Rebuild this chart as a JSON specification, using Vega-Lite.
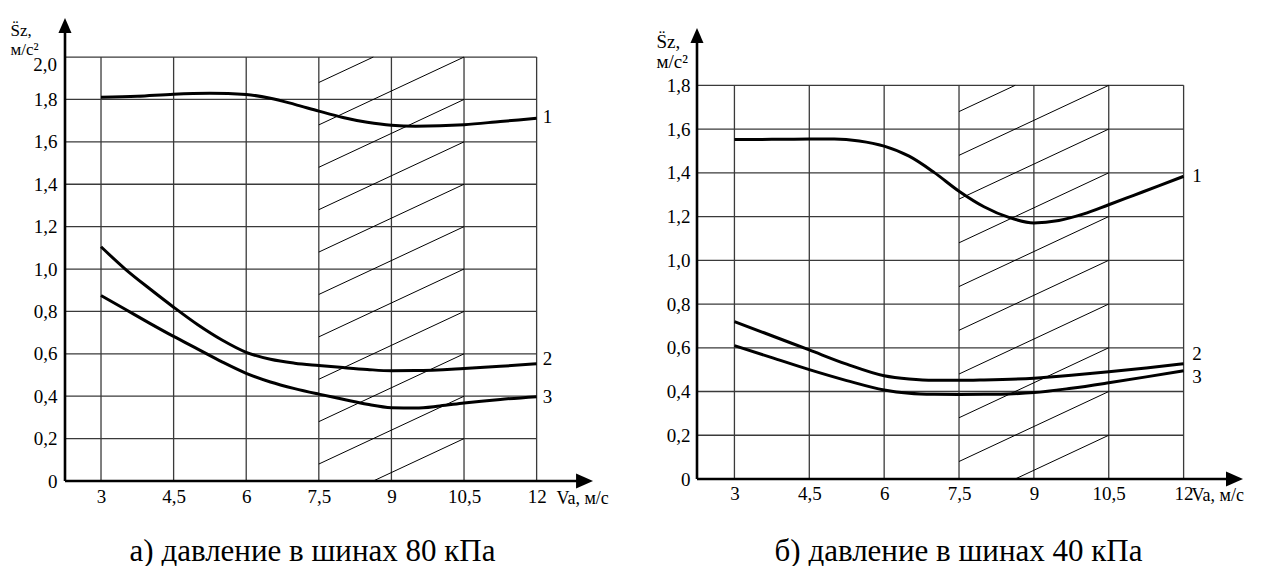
{
  "$schema": "https://vega.github.io/schema/vega-lite/v6.json",
  "padding": {"left": 10, "top": 17, "right": 0, "bottom": 0},
  "bounds": "flush",
  "spacing": 102,
  "config": {"view": {"stroke": null}, "font": "Liberation Serif", "text": {"font": "Liberation Serif"}},
  "hconcat": [
    {
      "width": 530,
      "height": 464,
      "layer": [
        {
          "data": {"values": [{"g": 0.2},{"g": 0.4},{"g": 0.6},{"g": 0.8},{"g": 1.0},{"g": 1.2},{"g": 1.4},{"g": 1.6},{"g": 1.8},{"g": 2.0}]},
          "mark": {"type": "rule", "color": "#3a3a3a", "strokeWidth": 1.3},
          "encoding": {
            "x": {"datum": 2.256, "type": "quantitative", "scale": {"domain": [2.256, 13.206], "nice": false, "zero": false}},
            "x2": {"datum": 12},
            "y": {"field": "g", "type": "quantitative", "scale": {"domain": [0, 2.189], "nice": false, "zero": false}}
          }
        },
        {
          "data": {"values": [{"g": 3},{"g": 4.5},{"g": 6},{"g": 7.5},{"g": 9},{"g": 10.5},{"g": 12}]},
          "mark": {"type": "rule", "color": "#3a3a3a", "strokeWidth": 1.3},
          "encoding": {
            "x": {"field": "g", "type": "quantitative", "scale": {"domain": [2.256, 13.206], "nice": false, "zero": false}},
            "y": {"datum": 0, "type": "quantitative", "scale": {"domain": [0, 2.189], "nice": false, "zero": false}},
            "y2": {"datum": 2.0}
          }
        },
        {
          "data": {"values": [
            {"x1": 8.625, "y1": 0.0, "x2": 10.5, "y2": 0.2},
            {"x1": 7.5, "y1": 0.08, "x2": 10.5, "y2": 0.4},
            {"x1": 7.5, "y1": 0.28, "x2": 10.5, "y2": 0.6},
            {"x1": 7.5, "y1": 0.48, "x2": 10.5, "y2": 0.8},
            {"x1": 7.5, "y1": 0.68, "x2": 10.5, "y2": 1.0},
            {"x1": 7.5, "y1": 0.88, "x2": 10.5, "y2": 1.2},
            {"x1": 7.5, "y1": 1.08, "x2": 10.5, "y2": 1.4},
            {"x1": 7.5, "y1": 1.28, "x2": 10.5, "y2": 1.6},
            {"x1": 7.5, "y1": 1.48, "x2": 10.5, "y2": 1.8},
            {"x1": 7.5, "y1": 1.68, "x2": 10.5, "y2": 2.0},
            {"x1": 7.5, "y1": 1.88, "x2": 8.625, "y2": 2.0}
          ]},
          "mark": {"type": "rule", "color": "black", "strokeWidth": 1},
          "encoding": {
            "x": {"field": "x1", "type": "quantitative", "scale": {"domain": [2.256, 13.206], "nice": false, "zero": false}},
            "x2": {"field": "x2"},
            "y": {"field": "y1", "type": "quantitative", "scale": {"domain": [0, 2.189], "nice": false, "zero": false}},
            "y2": {"field": "y2"}
          }
        },
        {
          "data": {"values": [
            {"x1": 2.256, "y1": 0, "x2": 2.256, "y2": 2.12},
            {"x1": 2.256, "y1": 0, "x2": 12.85, "y2": 0}
          ]},
          "mark": {"type": "rule", "color": "black", "strokeWidth": 2.6},
          "encoding": {
            "x": {"field": "x1", "type": "quantitative", "scale": {"domain": [2.256, 13.206], "nice": false, "zero": false}},
            "x2": {"field": "x2"},
            "y": {"field": "y1", "type": "quantitative", "scale": {"domain": [0, 2.189], "nice": false, "zero": false}},
            "y2": {"field": "y2"}
          }
        },
        {
          "data": {"values": [{"v": 2.256, "a": 2.149}]},
          "mark": {"type": "point", "shape": "M0,-1L0.87,1L-0.87,1Z", "filled": true, "color": "black", "opacity": 1, "size": 225, "strokeWidth": 0},
          "encoding": {
            "x": {"field": "v", "type": "quantitative", "scale": {"domain": [2.256, 13.206], "nice": false, "zero": false}},
            "y": {"field": "a", "type": "quantitative", "scale": {"domain": [0, 2.189], "nice": false, "zero": false}}
          }
        },
        {
          "data": {"values": [{"v": 12.99, "a": 0}]},
          "mark": {"type": "point", "shape": "M1,0L-1,-0.87L-1,0.87Z", "filled": true, "color": "black", "opacity": 1, "size": 289, "strokeWidth": 0},
          "encoding": {
            "x": {"field": "v", "type": "quantitative", "scale": {"domain": [2.256, 13.206], "nice": false, "zero": false}},
            "y": {"field": "a", "type": "quantitative", "scale": {"domain": [0, 2.189], "nice": false, "zero": false}}
          }
        },
        {
          "data": {"values": [
            {"c": "1", "v": 3, "a": 1.81}, {"c": "1", "v": 3.75, "a": 1.815}, {"c": "1", "v": 4.5, "a": 1.825}, {"c": "1", "v": 5.25, "a": 1.829}, {"c": "1", "v": 6, "a": 1.823}, {"c": "1", "v": 6.5, "a": 1.806}, {"c": "1", "v": 7, "a": 1.777}, {"c": "1", "v": 7.5, "a": 1.745}, {"c": "1", "v": 8, "a": 1.715}, {"c": "1", "v": 8.5, "a": 1.692}, {"c": "1", "v": 9, "a": 1.678}, {"c": "1", "v": 9.5, "a": 1.674}, {"c": "1", "v": 10.5, "a": 1.681}, {"c": "1", "v": 11.25, "a": 1.696}, {"c": "1", "v": 12, "a": 1.711},
            {"c": "2", "v": 3, "a": 1.105}, {"c": "2", "v": 3.5, "a": 1.0}, {"c": "2", "v": 4, "a": 0.908}, {"c": "2", "v": 4.5, "a": 0.82}, {"c": "2", "v": 5, "a": 0.737}, {"c": "2", "v": 5.5, "a": 0.665}, {"c": "2", "v": 6, "a": 0.607}, {"c": "2", "v": 6.5, "a": 0.574}, {"c": "2", "v": 7, "a": 0.556}, {"c": "2", "v": 7.5, "a": 0.545}, {"c": "2", "v": 8, "a": 0.535}, {"c": "2", "v": 8.5, "a": 0.526}, {"c": "2", "v": 9, "a": 0.52}, {"c": "2", "v": 9.5, "a": 0.521}, {"c": "2", "v": 10.5, "a": 0.531}, {"c": "2", "v": 11.25, "a": 0.541}, {"c": "2", "v": 12, "a": 0.553},
            {"c": "3", "v": 3, "a": 0.875}, {"c": "3", "v": 3.5, "a": 0.81}, {"c": "3", "v": 4, "a": 0.745}, {"c": "3", "v": 4.5, "a": 0.682}, {"c": "3", "v": 5, "a": 0.622}, {"c": "3", "v": 5.5, "a": 0.562}, {"c": "3", "v": 6, "a": 0.508}, {"c": "3", "v": 6.5, "a": 0.467}, {"c": "3", "v": 7, "a": 0.436}, {"c": "3", "v": 7.5, "a": 0.41}, {"c": "3", "v": 8, "a": 0.386}, {"c": "3", "v": 8.5, "a": 0.362}, {"c": "3", "v": 9, "a": 0.346}, {"c": "3", "v": 9.5, "a": 0.344}, {"c": "3", "v": 10, "a": 0.354}, {"c": "3", "v": 10.5, "a": 0.368}, {"c": "3", "v": 11.25, "a": 0.385}, {"c": "3", "v": 12, "a": 0.398}
          ]},
          "mark": {"type": "line", "color": "black", "strokeWidth": 3, "interpolate": "monotone"},
          "encoding": {
            "x": {"field": "v", "type": "quantitative", "scale": {"domain": [2.256, 13.206], "nice": false, "zero": false},
              "axis": {"values": [3, 4.5, 6, 7.5, 9, 10.5, 12], "labelExpr": "replace(toString(datum.value), '.', ',')", "labelFontSize": 19, "labelColor": "black", "labelFont": "Liberation Serif", "labelPadding": 6, "ticks": false, "domain": false, "grid": false,
                "title": "а) давление в шинах 80 кПа", "titleFont": "Liberation Serif", "titleFontSize": 31, "titleFontWeight": "normal", "titleColor": "black", "titleX": 247, "titleY": 79, "titleBaseline": "alphabetic", "titleAlign": "center"}},
            "y": {"field": "a", "type": "quantitative", "scale": {"domain": [0, 2.189], "nice": false, "zero": false},
              "axis": {"values": [0, 0.2, 0.4, 0.6, 0.8, 1.0, 1.2, 1.4, 1.6, 1.8], "labelExpr": "datum.value == 0 ? '0' : replace(format(datum.value, '.1f'), '.', ',')", "labelFontSize": 19, "labelColor": "black", "labelFont": "Liberation Serif", "labelPadding": 8, "ticks": false, "domain": false, "grid": false,
                "title": ["S̈z,", "м/с²"], "titleFont": "Liberation Serif", "titleFontSize": 17, "titleFontWeight": "normal", "titleColor": "black", "titleAngle": 0, "titleX": -55, "titleY": 18, "titleAlign": "left", "titleBaseline": "alphabetic", "titleLineHeight": 19}},
            "detail": {"field": "c"}
          }
        },
        {
          "data": {"values": [
            {"t": "1", "v": 12.225, "a": 1.717},
            {"t": "2", "v": 12.225, "a": 0.575},
            {"t": "3", "v": 12.225, "a": 0.398}
          ]},
          "mark": {"type": "text", "font": "Liberation Serif", "fontSize": 19, "color": "black", "align": "center", "baseline": "middle"},
          "encoding": {
            "x": {"field": "v", "type": "quantitative", "scale": {"domain": [2.256, 13.206], "nice": false, "zero": false}},
            "y": {"field": "a", "type": "quantitative", "scale": {"domain": [0, 2.189], "nice": false, "zero": false}},
            "text": {"field": "t"}
          }
        },
        {
          "data": {"values": [{"t": "2,0", "v": 2.09, "a": 1.963}]},
          "mark": {"type": "text", "font": "Liberation Serif", "fontSize": 19, "color": "black", "align": "right", "baseline": "middle"},
          "encoding": {
            "x": {"field": "v", "type": "quantitative", "scale": {"domain": [2.256, 13.206], "nice": false, "zero": false}},
            "y": {"field": "a", "type": "quantitative", "scale": {"domain": [0, 2.189], "nice": false, "zero": false}},
            "text": {"field": "t"}
          }
        },
        {
          "data": {"values": [{"t": "Va, м/с", "v": 12.41, "a": -0.085}]},
          "mark": {"type": "text", "font": "Liberation Serif", "fontSize": 18, "color": "black", "align": "left", "baseline": "middle"},
          "encoding": {
            "x": {"field": "v", "type": "quantitative", "scale": {"domain": [2.256, 13.206], "nice": false, "zero": false}},
            "y": {"field": "a", "type": "quantitative", "scale": {"domain": [0, 2.189], "nice": false, "zero": false}},
            "text": {"field": "t"}
          }
        }
      ]
    },
    {
      "width": 546,
      "height": 462,
      "layer": [
        {
          "data": {"values": [{"g": 0.2},{"g": 0.4},{"g": 0.6},{"g": 0.8},{"g": 1.0},{"g": 1.2},{"g": 1.4},{"g": 1.6},{"g": 1.8}]},
          "mark": {"type": "rule", "color": "#3a3a3a", "strokeWidth": 1.3},
          "encoding": {
            "x": {"datum": 2.25, "type": "quantitative", "scale": {"domain": [2.25, 13.19], "nice": false, "zero": false}},
            "x2": {"datum": 12},
            "y": {"field": "g", "type": "quantitative", "scale": {"domain": [0, 2.1125], "nice": false, "zero": false}}
          }
        },
        {
          "data": {"values": [{"g": 3},{"g": 4.5},{"g": 6},{"g": 7.5},{"g": 9},{"g": 10.5},{"g": 12}]},
          "mark": {"type": "rule", "color": "#3a3a3a", "strokeWidth": 1.3},
          "encoding": {
            "x": {"field": "g", "type": "quantitative", "scale": {"domain": [2.25, 13.19], "nice": false, "zero": false}},
            "y": {"datum": 0, "type": "quantitative", "scale": {"domain": [0, 2.1125], "nice": false, "zero": false}},
            "y2": {"datum": 1.8}
          }
        },
        {
          "data": {"values": [
            {"x1": 8.625, "y1": 0.0, "x2": 10.5, "y2": 0.2},
            {"x1": 7.5, "y1": 0.08, "x2": 10.5, "y2": 0.4},
            {"x1": 7.5, "y1": 0.28, "x2": 10.5, "y2": 0.6},
            {"x1": 7.5, "y1": 0.48, "x2": 10.5, "y2": 0.8},
            {"x1": 7.5, "y1": 0.68, "x2": 10.5, "y2": 1.0},
            {"x1": 7.5, "y1": 0.88, "x2": 10.5, "y2": 1.2},
            {"x1": 7.5, "y1": 1.08, "x2": 10.5, "y2": 1.4},
            {"x1": 7.5, "y1": 1.28, "x2": 10.5, "y2": 1.6},
            {"x1": 7.5, "y1": 1.48, "x2": 10.5, "y2": 1.8},
            {"x1": 7.5, "y1": 1.68, "x2": 8.625, "y2": 1.8}
          ]},
          "mark": {"type": "rule", "color": "black", "strokeWidth": 1},
          "encoding": {
            "x": {"field": "x1", "type": "quantitative", "scale": {"domain": [2.25, 13.19], "nice": false, "zero": false}},
            "x2": {"field": "x2"},
            "y": {"field": "y1", "type": "quantitative", "scale": {"domain": [0, 2.1125], "nice": false, "zero": false}},
            "y2": {"field": "y2"}
          }
        },
        {
          "data": {"values": [
            {"x1": 2.25, "y1": 0, "x2": 2.25, "y2": 2.0},
            {"x1": 2.25, "y1": 0, "x2": 12.88, "y2": 0}
          ]},
          "mark": {"type": "rule", "color": "black", "strokeWidth": 2.6},
          "encoding": {
            "x": {"field": "x1", "type": "quantitative", "scale": {"domain": [2.25, 13.19], "nice": false, "zero": false}},
            "x2": {"field": "x2"},
            "y": {"field": "y1", "type": "quantitative", "scale": {"domain": [0, 2.1125], "nice": false, "zero": false}},
            "y2": {"field": "y2"}
          }
        },
        {
          "data": {"values": [{"v": 2.25, "a": 2.028}]},
          "mark": {"type": "point", "shape": "M0,-1L0.87,1L-0.87,1Z", "filled": true, "color": "black", "opacity": 1, "size": 225, "strokeWidth": 0},
          "encoding": {
            "x": {"field": "v", "type": "quantitative", "scale": {"domain": [2.25, 13.19], "nice": false, "zero": false}},
            "y": {"field": "a", "type": "quantitative", "scale": {"domain": [0, 2.1125], "nice": false, "zero": false}}
          }
        },
        {
          "data": {"values": [{"v": 13.02, "a": 0}]},
          "mark": {"type": "point", "shape": "M1,0L-1,-0.87L-1,0.87Z", "filled": true, "color": "black", "opacity": 1, "size": 289, "strokeWidth": 0},
          "encoding": {
            "x": {"field": "v", "type": "quantitative", "scale": {"domain": [2.25, 13.19], "nice": false, "zero": false}},
            "y": {"field": "a", "type": "quantitative", "scale": {"domain": [0, 2.1125], "nice": false, "zero": false}}
          }
        },
        {
          "data": {"values": [
            {"c": "1", "v": 3, "a": 1.552}, {"c": "1", "v": 3.75, "a": 1.553}, {"c": "1", "v": 4.5, "a": 1.555}, {"c": "1", "v": 5, "a": 1.555}, {"c": "1", "v": 5.5, "a": 1.546}, {"c": "1", "v": 6, "a": 1.522}, {"c": "1", "v": 6.5, "a": 1.476}, {"c": "1", "v": 7, "a": 1.402}, {"c": "1", "v": 7.5, "a": 1.316}, {"c": "1", "v": 8, "a": 1.245}, {"c": "1", "v": 8.5, "a": 1.196}, {"c": "1", "v": 9, "a": 1.171}, {"c": "1", "v": 9.5, "a": 1.182}, {"c": "1", "v": 10, "a": 1.212}, {"c": "1", "v": 10.5, "a": 1.254}, {"c": "1", "v": 11, "a": 1.297}, {"c": "1", "v": 11.5, "a": 1.34}, {"c": "1", "v": 12, "a": 1.384},
            {"c": "2", "v": 3, "a": 0.72}, {"c": "2", "v": 3.75, "a": 0.655}, {"c": "2", "v": 4.5, "a": 0.59}, {"c": "2", "v": 5.25, "a": 0.525}, {"c": "2", "v": 6, "a": 0.472}, {"c": "2", "v": 6.5, "a": 0.457}, {"c": "2", "v": 7, "a": 0.451}, {"c": "2", "v": 7.5, "a": 0.451}, {"c": "2", "v": 8, "a": 0.453}, {"c": "2", "v": 9, "a": 0.461}, {"c": "2", "v": 9.75, "a": 0.474}, {"c": "2", "v": 10.5, "a": 0.49}, {"c": "2", "v": 11.25, "a": 0.508}, {"c": "2", "v": 12, "a": 0.527},
            {"c": "3", "v": 3, "a": 0.61}, {"c": "3", "v": 3.75, "a": 0.555}, {"c": "3", "v": 4.5, "a": 0.5}, {"c": "3", "v": 5.25, "a": 0.45}, {"c": "3", "v": 6, "a": 0.407}, {"c": "3", "v": 6.5, "a": 0.392}, {"c": "3", "v": 7, "a": 0.387}, {"c": "3", "v": 7.5, "a": 0.386}, {"c": "3", "v": 8, "a": 0.387}, {"c": "3", "v": 8.5, "a": 0.389}, {"c": "3", "v": 9, "a": 0.395}, {"c": "3", "v": 9.75, "a": 0.415}, {"c": "3", "v": 10.5, "a": 0.44}, {"c": "3", "v": 11.25, "a": 0.467}, {"c": "3", "v": 12, "a": 0.495}
          ]},
          "mark": {"type": "line", "color": "black", "strokeWidth": 3, "interpolate": "monotone"},
          "encoding": {
            "x": {"field": "v", "type": "quantitative", "scale": {"domain": [2.25, 13.19], "nice": false, "zero": false},
              "axis": {"values": [3, 4.5, 6, 7.5, 9, 10.5, 12], "labelExpr": "replace(toString(datum.value), '.', ',')", "labelFontSize": 19, "labelColor": "black", "labelFont": "Liberation Serif", "labelPadding": 5, "ticks": false, "domain": false, "grid": false,
                "title": "б) давление в шинах 40 кПа", "titleFont": "Liberation Serif", "titleFontSize": 31, "titleFontWeight": "normal", "titleColor": "black", "titleX": 261, "titleY": 81, "titleBaseline": "alphabetic", "titleAlign": "center"}},
            "y": {"field": "a", "type": "quantitative", "scale": {"domain": [0, 2.1125], "nice": false, "zero": false},
              "axis": {"values": [0, 0.2, 0.4, 0.6, 0.8, 1.0, 1.2, 1.4, 1.6, 1.8], "labelExpr": "datum.value == 0 ? '0' : replace(format(datum.value, '.1f'), '.', ',')", "labelFontSize": 19, "labelColor": "black", "labelFont": "Liberation Serif", "labelPadding": 7, "ticks": false, "domain": false, "grid": false,
                "title": ["S̈z,", "м/с²"], "titleFont": "Liberation Serif", "titleFontSize": 19, "titleFontWeight": "normal", "titleColor": "black", "titleAngle": 0, "titleX": -41, "titleY": 30, "titleAlign": "left", "titleBaseline": "alphabetic", "titleLineHeight": 20}},
            "detail": {"field": "c"}
          }
        },
        {
          "data": {"values": [
            {"t": "1", "v": 12.27, "a": 1.384},
            {"t": "2", "v": 12.27, "a": 0.573},
            {"t": "3", "v": 12.27, "a": 0.465}
          ]},
          "mark": {"type": "text", "font": "Liberation Serif", "fontSize": 19, "color": "black", "align": "center", "baseline": "middle"},
          "encoding": {
            "x": {"field": "v", "type": "quantitative", "scale": {"domain": [2.25, 13.19], "nice": false, "zero": false}},
            "y": {"field": "a", "type": "quantitative", "scale": {"domain": [0, 2.1125], "nice": false, "zero": false}},
            "text": {"field": "t"}
          }
        },
        {
          "data": {"values": [{"t": "Va, м/с", "v": 12.16, "a": -0.08}]},
          "mark": {"type": "text", "font": "Liberation Serif", "fontSize": 18, "color": "black", "align": "left", "baseline": "middle"},
          "encoding": {
            "x": {"field": "v", "type": "quantitative", "scale": {"domain": [2.25, 13.19], "nice": false, "zero": false}},
            "y": {"field": "a", "type": "quantitative", "scale": {"domain": [0, 2.1125], "nice": false, "zero": false}},
            "text": {"field": "t"}
          }
        }
      ]
    }
  ]
}
